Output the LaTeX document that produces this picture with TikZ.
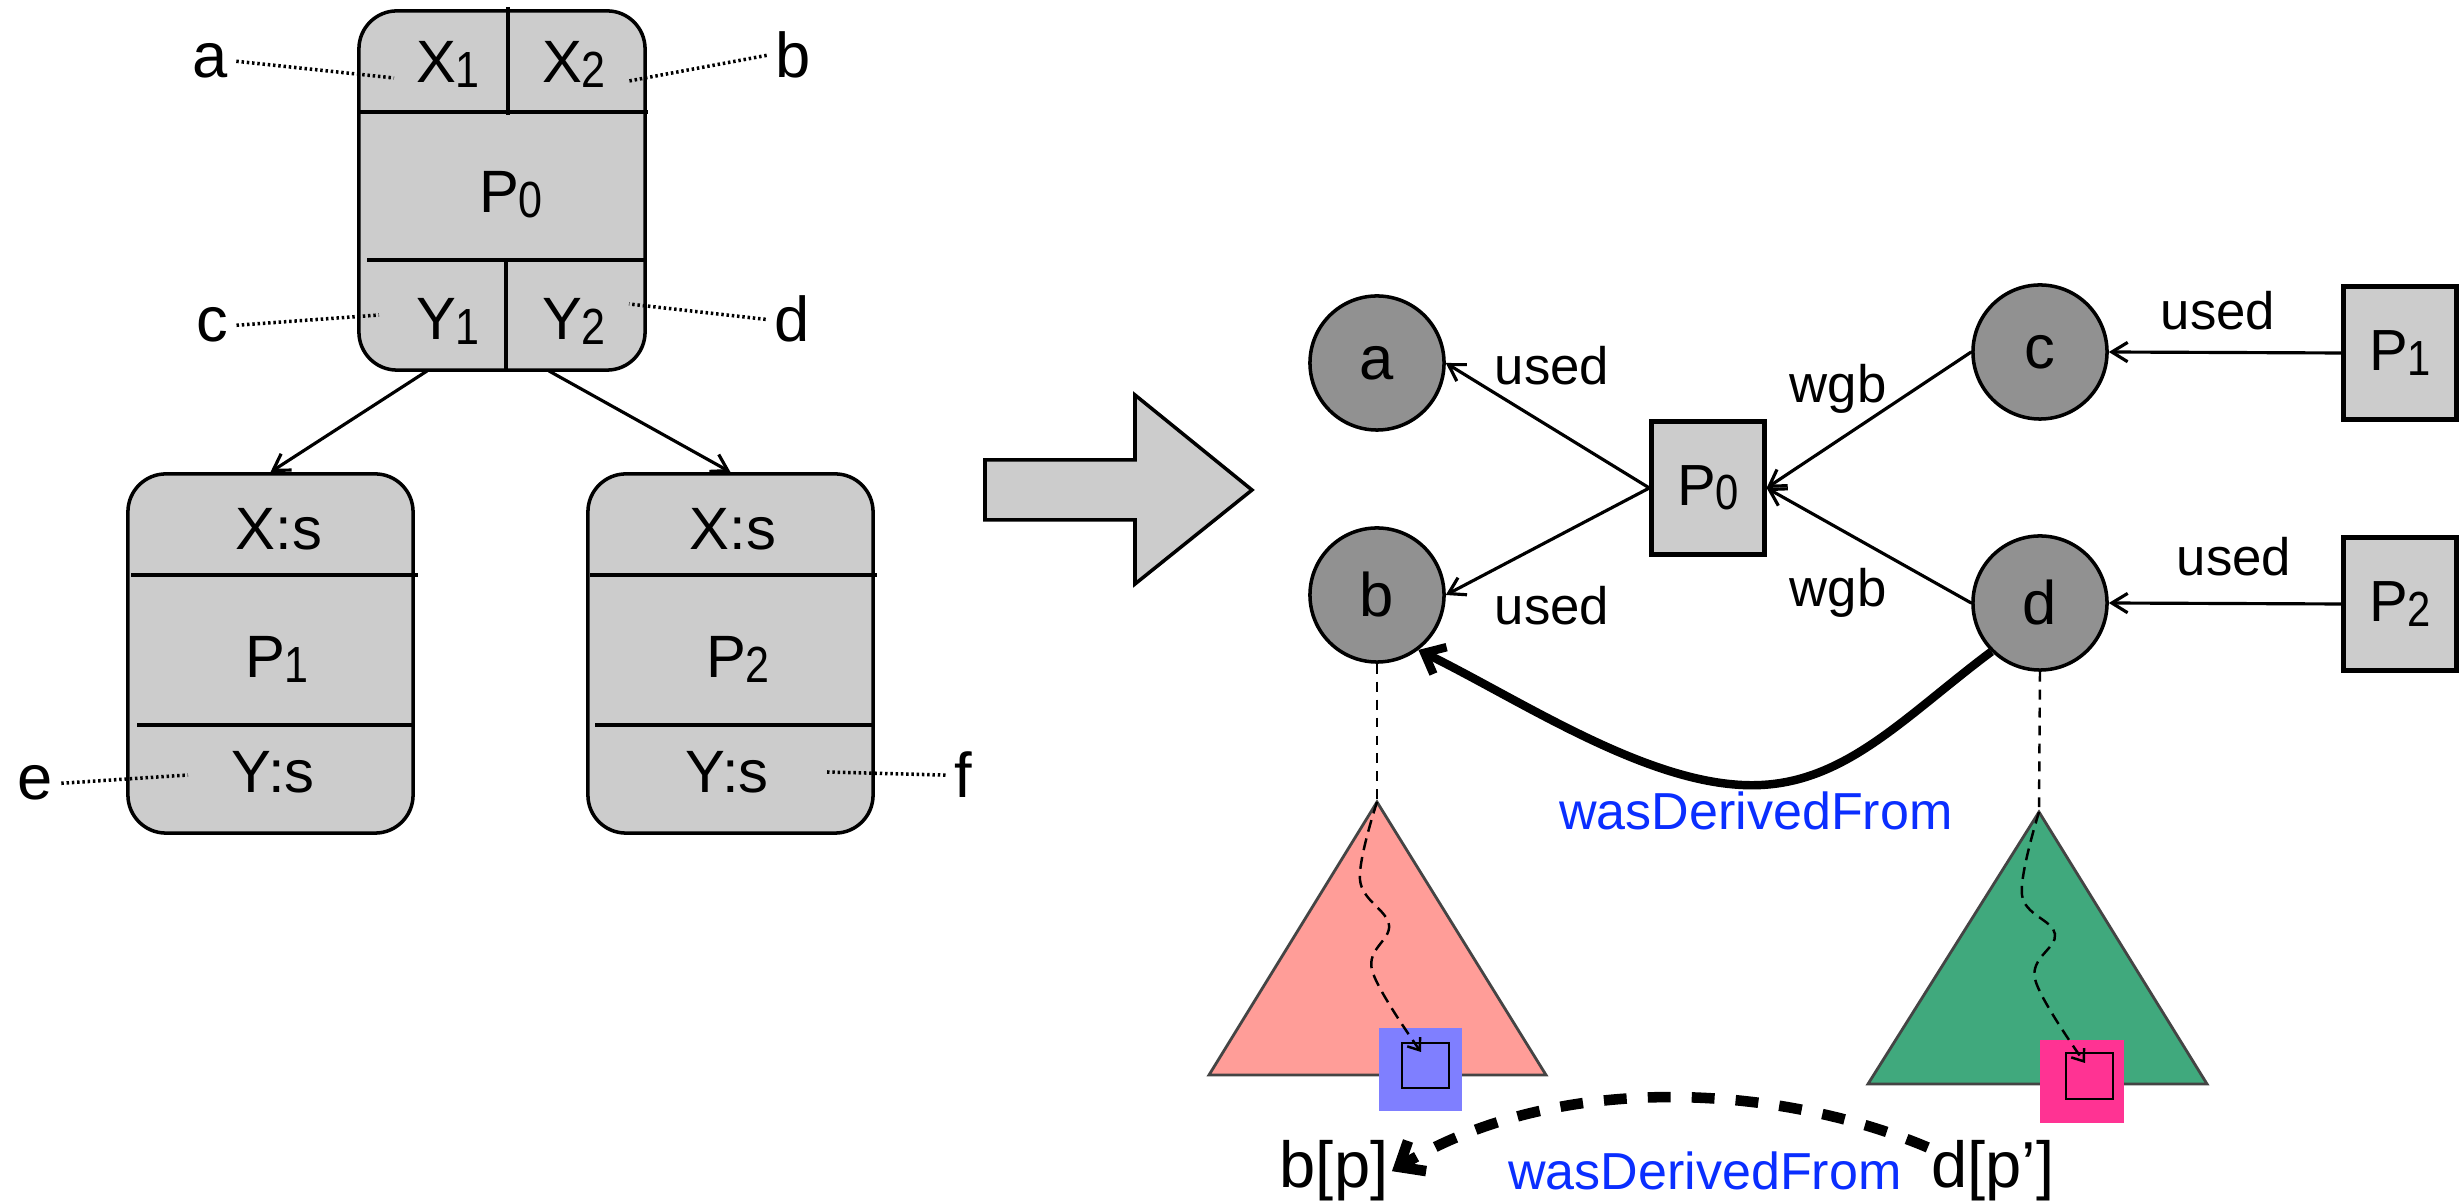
\documentclass[tikz,border=0pt]{standalone}
\usepackage{fontspec}
\setmainfont{Liberation Sans}
\usepackage{graphicx}
\usetikzlibrary{arrows.meta}

\definecolor{boxgray}{HTML}{CCCCCC}
\definecolor{nodegray}{HTML}{919191}
\definecolor{treered}{HTML}{FF9D98}
\definecolor{treegreen}{HTML}{40A97D}
\definecolor{markblue}{HTML}{7F7FFF}
\definecolor{markpink}{HTML}{FF3393}
\definecolor{relblue}{HTML}{0A2EFF}
\definecolor{edgegray}{HTML}{444444}

% narrow, slightly lowered index digit
\newcommand\dsub[1]{\raisebox{-1.2pt}{\scalebox{0.72}[0.85]{#1}}}

\begin{document}
\begin{tikzpicture}[x=0.01cm,y=-0.01cm,
  rec/.style={draw, line width=1pt, fill=boxgray, rounded corners=0.38cm, inner sep=0pt},
  div/.style={line width=1pt},
  rtxt/.style={font=\fontsize{17pt}{19pt}\selectfont, inner sep=0pt},
  lbl/.style={font=\fontsize{18pt}{20pt}\selectfont, inner sep=0.08cm},
  leader/.style={line width=1pt, dash pattern=on 0.7pt off 0.8pt},
  flow/.style={line width=0.9pt, -{Straight Barb[length=4.5pt,width=5.5pt]}},
  ent/.style={circle, draw, line width=1pt, fill=nodegray, minimum size=1.34cm, inner sep=0pt,
              font=\fontsize{17.5pt}{19pt}\selectfont},
  act/.style={draw, line width=1.2pt, fill=boxgray, minimum width=1.13cm, minimum height=1.33cm,
              inner sep=0pt, font=\fontsize{16.5pt}{18pt}\selectfont},
  rel/.style={line width=0.9pt, -{Straight Barb[length=4.5pt,width=5.5pt]}},
  elbl/.style={font=\fontsize{15pt}{17pt}\selectfont, inner sep=0pt},
  vdash/.style={line width=0.7pt, dash pattern=on 2.8pt off 2.3pt},
  tri/.style={draw=edgegray, line width=0.8pt},
  wig/.style={line width=0.7pt, dash pattern=on 3.4pt off 2pt,
              -{Straight Barb[length=3pt,width=4.5pt]}},
  derive/.style={line width=2.4pt, -{Straight Barb[length=5pt,width=8.5pt]}},
  derivedash/.style={line width=3pt, dash pattern=on 6.5pt off 6pt,
              -{Straight Barb[length=6pt,width=10pt]}},
  rlbl/.style={text=relblue, font=\fontsize{14.8pt}{16pt}\selectfont, inner sep=0pt},
  inst/.style={font=\fontsize{18.5pt}{20pt}\selectfont, inner sep=0.03cm}
]
\fill[white] (0,0) rectangle (2459,1201);
\useasboundingbox (0,0) rectangle (2459,1201);

% ---------- process P0 with its ports ----------
\node[rec, minimum width=2.86cm, minimum height=3.59cm] (r0) at (502,190.5) {};
\draw[div] (359,112) -- (648,112);
\draw[div] (508,7) -- (508,115);
\draw[div] (367,260) -- (645,260);
\draw[div] (506,260) -- (506,370);
\node[rtxt, anchor=base] (x1) at (448,83) {X\dsub{1}};
\node[rtxt, anchor=base] (x2) at (574,83) {X\dsub{2}};
\node[rtxt, anchor=base] (p0) at (511,213) {P\dsub{0}};
\node[rtxt, anchor=base] (y1) at (448,340) {Y\dsub{1}};
\node[rtxt, anchor=base] (y2) at (574,340) {Y\dsub{2}};

% ---------- processes P1 and P2 ----------
\node[rec, minimum width=2.85cm, minimum height=3.59cm] (r1) at (270.5,653.5) {};
\draw[div] (131,575) -- (418,575);
\draw[div] (137,725) -- (413,725);
\node[rtxt, anchor=base] (xs1) at (279,550) {X:s};
\node[rtxt, anchor=base] (p1) at (277,678) {P\dsub{1}};
\node[rtxt, anchor=base] (ys1) at (273,793) {Y:s};

\node[rec, minimum width=2.85cm, minimum height=3.59cm] (r2) at (730.5,653.5) {};
\draw[div] (590,575) -- (877,575);
\draw[div] (595,725) -- (873,725);
\node[rtxt, anchor=base] (xs2) at (733,550) {X:s};
\node[rtxt, anchor=base] (p2) at (738,678) {P\dsub{2}};
\node[rtxt, anchor=base] (ys2) at (727,793) {Y:s};

\coordinate (r0l) at (427,371);
\coordinate (r0r) at (549,371);
\draw[flow] (r0l) -- (r1.north);
\draw[flow] (r0r) -- (r2.north);

% ---------- port names ----------
\node[lbl, anchor=base] (la) at (210,78) {a};
\node[lbl, anchor=base] (lb) at (793,78) {b};
\node[lbl, anchor=base] (lc) at (212,342) {c};
\node[lbl, anchor=base] (ld) at (792,342) {d};
\node[lbl, anchor=base] (le) at (35,800) {e};
\node[lbl, anchor=base] (lf) at (963,798) {f};
\coordinate (pa) at (394,78);
\coordinate (pb) at (629,81);
\coordinate (pc) at (379,315);
\coordinate (pd) at (629,304);
\coordinate (pe) at (188,775);
\coordinate (pf) at (827,772);
\draw[leader] (la.east) -- (pa);
\draw[leader] (lb.west) -- (pb);
\draw[leader] (lc.east) -- (pc);
\draw[leader] (ld.west) -- (pd);
\draw[leader] (le.east) -- (pe);
\draw[leader] (lf.west) -- (pf);

% ---------- translation arrow ----------
\draw[line width=1pt, fill=boxgray, line join=miter]
  (985,460) -- (1135,460) -- (1135,395) -- (1252,490) -- (1135,584) -- (1135,520) -- (985,520) -- cycle;

% ---------- provenance graph ----------
\node[ent] (na) at (1377,363) {a};
\node[ent] (nb) at (1377,595) {b};
\node[ent] (nc) at (2040,352) {c};
\node[ent] (nd) at (2040,603) {d};
\node[act] (q0) at (1708,488) {P\dsub{0}};
\node[act] (q1) at (2400,353) {P\dsub{1}};
\node[act] (q2) at (2400,604) {P\dsub{2}};

\draw[rel] (q0.west) -- (na.east);
\draw[rel] (q0.west) -- (nb.east);
\draw[rel] (nc.west) -- (q0.east);
\draw[rel] (nd.west) -- (q0.east);
\draw[rel] (q1.west) -- (nc.east);
\draw[rel] (q2.west) -- (nd.east);

\node[elbl, anchor=base] (u1) at (1552,385) {used};
\node[elbl, anchor=base] (u2) at (1552,625) {used};
\node[elbl, anchor=base] (w1) at (1838,403) {wgb};
\node[elbl, anchor=base] (w2) at (1838,607) {wgb};
\node[elbl, anchor=base] (u3) at (2218,330) {used};
\node[elbl, anchor=base] (u4) at (2234,576) {used};

\draw[derive] (nd.225) .. controls (1900,720) and (1840,790) .. (1742,785)
  .. controls (1640,780) and (1520,700) .. (nb.-53);
\node[rlbl, anchor=base] (wd1) at (1756,830) {wasDerivedFrom};

% ---------- trees below b and d ----------
\coordinate (t1) at (1377,802);
\coordinate (t2) at (2039,812);
\draw[vdash] (nb.south) -- (t1);
\draw[vdash] (nd.south) -- (t2);
\draw[tri, fill=treered] (t1) -- (1546,1075) -- (1209,1075) -- cycle;
\draw[tri, fill=treegreen] (t2) -- (2207,1084) -- (1868,1084) -- cycle;

\node[fill=markblue, minimum size=0.83cm, inner sep=0pt] (m1) at (1420.5,1069.5) {};
\node[draw, line width=0.7pt, minimum width=0.47cm, minimum height=0.45cm, inner sep=0pt] (k1) at (1425.5,1065.5) {};
\node[fill=markpink, minimum size=0.83cm, inner sep=0pt] (m2) at (2082,1081.5) {};
\node[draw, line width=0.7pt, minimum width=0.47cm, minimum height=0.46cm, inner sep=0pt] (k2) at (2089.5,1076) {};

\coordinate (k1in) at (1421,1052);
\coordinate (k2in) at (2085,1063);
\draw[wig] plot[smooth, tension=0.6] coordinates {(t1) (1360,880) (1389,925) (1372,970) (k1in)};
\draw[wig] plot[smooth, tension=0.6] coordinates {(t2) (2022,895) (2055,934) (2035,979) (k2in)};

% ---------- instance level ----------
\node[inst, anchor=base] (bp) at (1334,1188) {b[p]};
\node[inst, anchor=base] (dp) at (1993,1188) {d[p’]};
\draw[derivedash] (dp.160) .. controls (1780,1085) and (1560,1070) .. (bp.east);
\node[rlbl, anchor=base] (wd2) at (1705,1190) {wasDerivedFrom};
\end{tikzpicture}
\end{document}
